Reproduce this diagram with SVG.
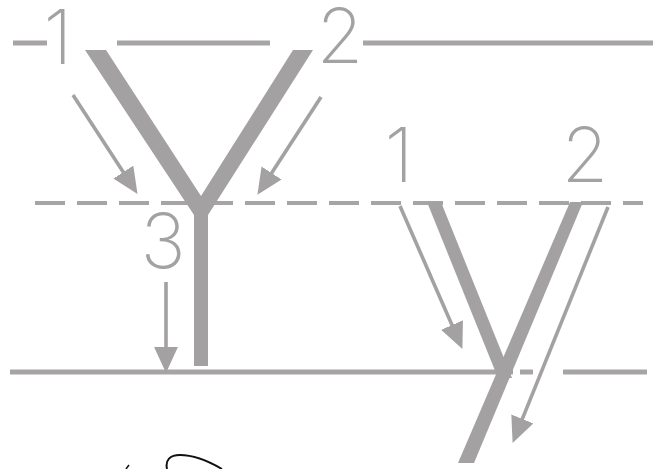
<svg xmlns="http://www.w3.org/2000/svg" width="665" height="469" viewBox="0 0 665 469">
<style>
.g{fill:#a4a1a2}
.ln{stroke:#a7a4a5;fill:none}
.arr{stroke:#a4a1a2;stroke-width:3.6;fill:none;marker-end:url(#ah)}
.num{font-family:Inter,"Open Sans","Liberation Sans",sans-serif;font-weight:200;font-size:76px;fill:#a4a1a2;text-anchor:middle}
</style>
<defs>
<marker id="ah" markerUnits="userSpaceOnUse" markerWidth="26" markerHeight="24" viewBox="0 0 24 22" refX="12" refY="11" orient="auto">
<path d="M0,0 L24,11 L0,22 z" fill="#a4a1a2"/>
</marker>
</defs>
<rect width="665" height="469" fill="#fff"/>
<g id="guides">
<path class="ln" stroke-width="5" d="M13,43 H47 M117,43 H270 M363,43 H653"/>
<path class="ln" stroke-width="4" stroke-dasharray="30 12" d="M35,203 H643"/>
<path class="ln" stroke-width="5" d="M10,372 H513 M520,372 H533 M563,372 H647"/>
</g>
<g id="big-Y">
<path class="g" d="M85,50 L106,50 L201,196 L293,50 L313,50 L208,215 L208,366 L194,366 L194,215 Z"/>
</g>
<g id="small-y">
<path class="g" d="M427,202 L441,202 L512,378 L498,378 Z"/>
<path class="g" d="M570,202 L583,202 L474,463 L458,463 Z"/>
</g>
<g id="connectors">
<line class="arr" x1="73" y1="95" x2="130.4" y2="183"/>
<line class="arr" x1="321" y1="97" x2="264.5" y2="183.9"/>
<line class="arr" x1="166" y1="282" x2="166" y2="360"/>
<line class="arr" x1="400" y1="206" x2="457.2" y2="337"/>
<line class="arr" x1="608" y1="207" x2="517.5" y2="430.9"/>
</g>
<g id="labels">
<text class="num" x="58" y="64">1</text>
<text class="num" x="340" y="63">2</text>
<text class="num" x="163" y="268">3</text>
<text class="num" x="399" y="182">1</text>
<text class="num" x="585" y="182">2</text>
</g>
<g id="scribble">
<path d="M167,469 C165,460 170,455 180,455 C195,455 210,462 222,469" fill="none" stroke="#111" stroke-width="2"/>
<path d="M126,469 L129,465" fill="none" stroke="#111" stroke-width="1.5"/>
</g>
</svg>
